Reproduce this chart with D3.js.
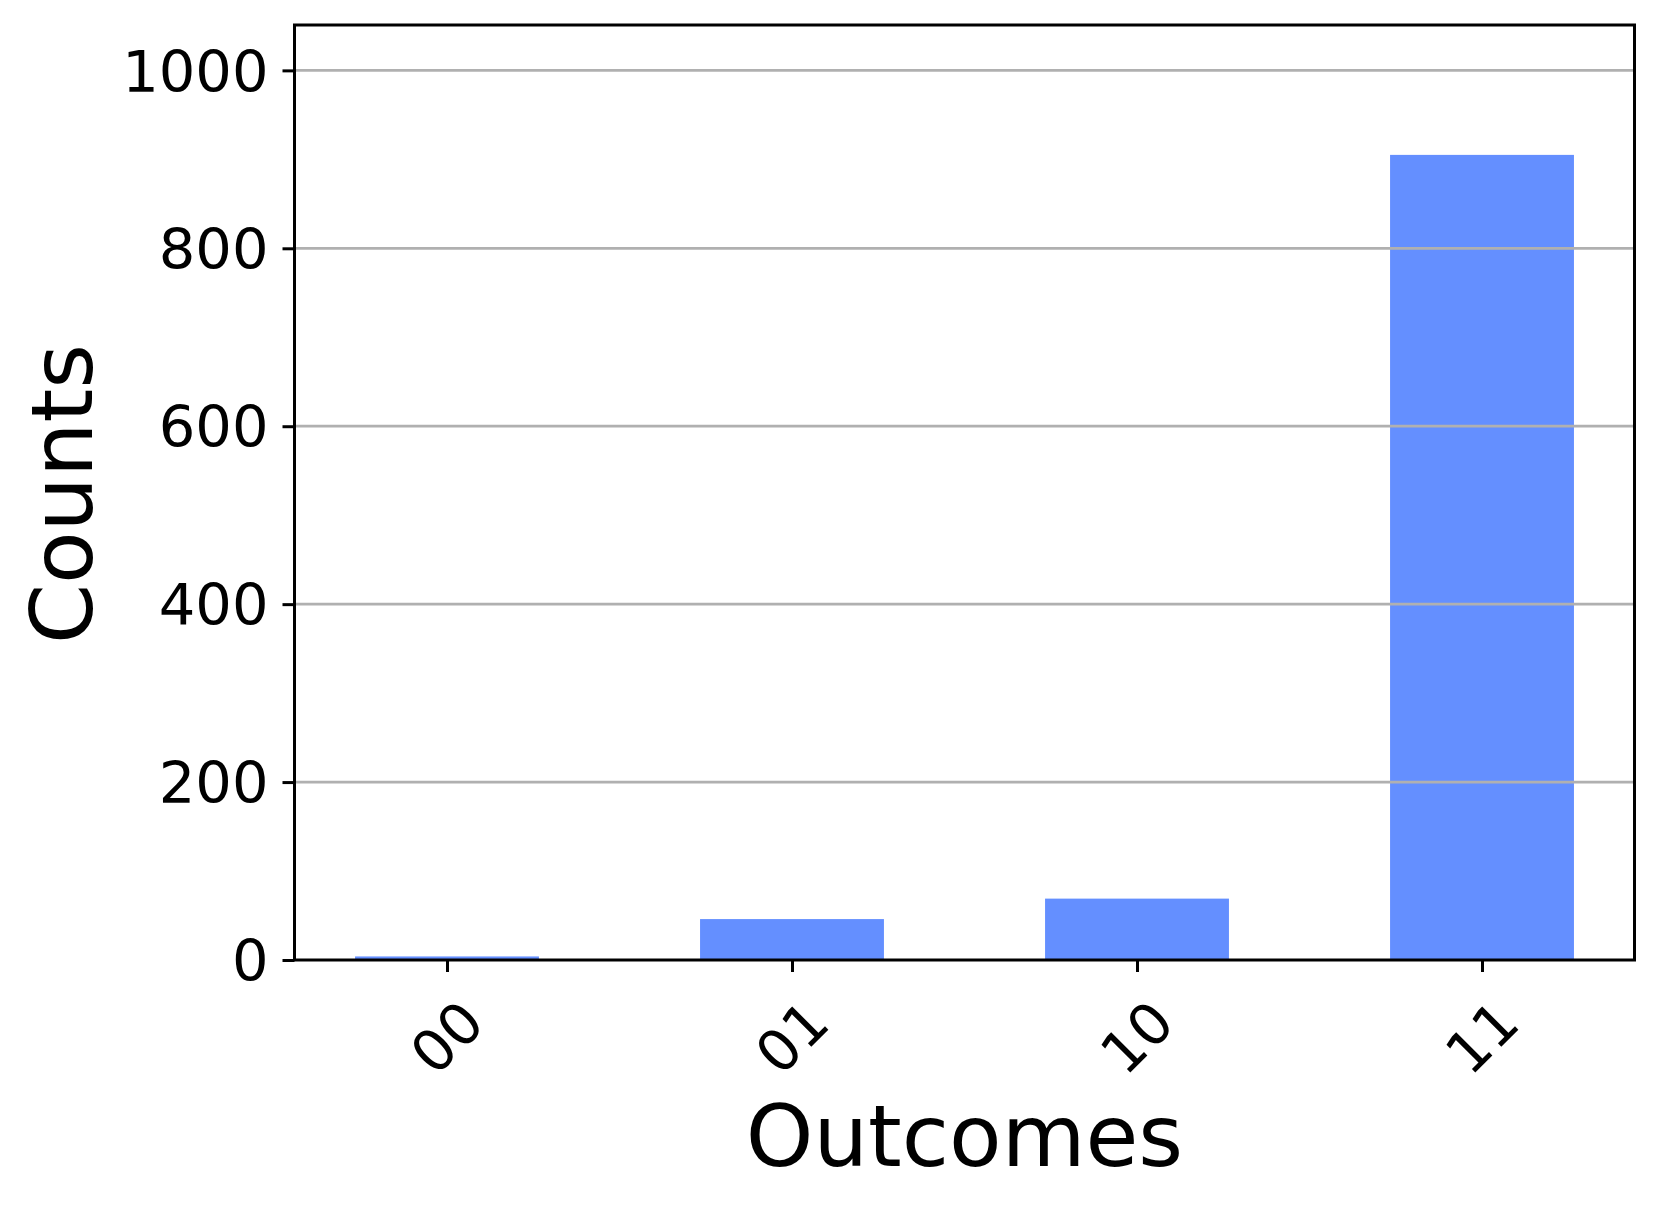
<!DOCTYPE html>
<html>
<head>
<meta charset="utf-8">
<script src="https://cdn.jsdelivr.net/npm/d3@7"></script>
<style>
  html, body { margin: 0; padding: 0; background: #fff; }
  svg { display: block; font-family: "DejaVu Sans", sans-serif; }
</style>
</head>
<body>
<svg id="chart" width="1661" height="1212"></svg>
<script>
const categories = ["00", "01", "10", "11"];
const counts = [4, 46, 69, 905];
const yTicks = [0, 200, 400, 600, 800, 1000];
const xLabel = "Outcomes";
const yLabel = "Counts";

const W = 1661, H = 1212;
const margin = { left: 294.5, right: W - 1634.5, top: 25, bottom: H - 960 };
const svg = d3.select("#chart");

const barWidth = 0.533;
const x = d3.scaleLinear()
  .domain([-0.442, categories.length - 1 + 0.442])
  .range([margin.left, W - margin.right]);
const y = d3.scaleLinear()
  .domain([0, 1051])
  .range([H - margin.bottom, margin.top]);

const barColor = "#648FFF";

// bars
svg.append("g")
  .selectAll("rect")
  .data(counts)
  .join("rect")
  .attr("x", (d, i) => x(i - barWidth / 2))
  .attr("width", (d, i) => x(i + barWidth / 2) - x(i - barWidth / 2))
  .attr("y", d => y(d))
  .attr("height", d => y(0) - y(d))
  .attr("fill", barColor);

// grid (drawn over bars)
svg.append("g")
  .selectAll("line")
  .data(yTicks.filter(t => t > 0))
  .join("line")
  .attr("x1", margin.left)
  .attr("x2", W - margin.right)
  .attr("y1", d => y(d))
  .attr("y2", d => y(d))
  .attr("stroke", "#b0b0b0")
  .attr("stroke-width", 2.8);

// y axis
const yAxis = d3.axisLeft(y).tickValues(yTicks).tickSize(12).tickPadding(14).tickFormat(d3.format("d"));
const gy = svg.append("g").attr("transform", `translate(${margin.left},0)`).call(yAxis);
gy.select(".domain").remove();
gy.selectAll(".tick line").attr("stroke", "#000").attr("stroke-width", 3);
gy.selectAll(".tick text")
  .attr("font-size", 57.5)
  .attr("font-family", "DejaVu Sans")
  .attr("fill", "#000")
  .attr("dy", "0.36em");

// x axis
const xAxis = d3.axisBottom(x).tickValues(d3.range(categories.length)).tickSize(12).tickFormat(i => categories[i]);
const gx = svg.append("g").attr("transform", `translate(0,${H - margin.bottom})`).call(xAxis);
gx.select(".domain").remove();
gx.selectAll(".tick line").attr("stroke", "#000").attr("stroke-width", 3);
gx.selectAll(".tick text")
  .attr("font-size", 57.5)
  .attr("font-family", "DejaVu Sans")
  .attr("fill", "#000")
  .attr("text-anchor", "middle")
  .attr("y", 0)
  .attr("dy", "0.36em")
  .attr("transform", "translate(-1,77) rotate(-45)");

// frame
svg.append("rect")
  .attr("x", margin.left)
  .attr("y", margin.top)
  .attr("width", W - margin.left - margin.right)
  .attr("height", H - margin.top - margin.bottom)
  .attr("fill", "none")
  .attr("stroke", "#000")
  .attr("stroke-width", 3);

// axis labels
svg.append("text")
  .attr("x", (margin.left + W - margin.right) / 2)
  .attr("y", 1166)
  .attr("text-anchor", "middle")
  .attr("font-size", 86)
  .attr("fill", "#000")
  .text(xLabel);

svg.append("text")
  .attr("transform", `translate(92,${494}) rotate(-90)`)
  .attr("text-anchor", "middle")
  .attr("font-size", 86)
  .attr("fill", "#000")
  .text(yLabel);
</script>
</body>
</html>
